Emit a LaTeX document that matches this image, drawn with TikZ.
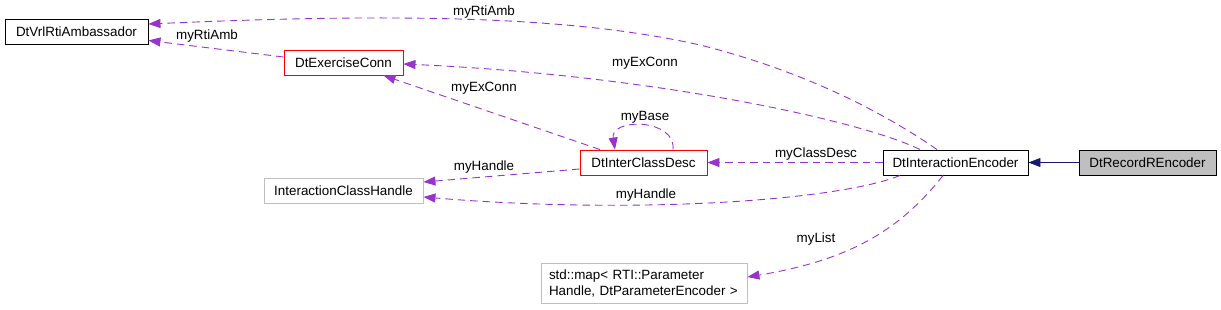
\documentclass[tikz,border=0pt]{standalone}
\usepackage{fontspec}
\setmainfont{Liberation Sans}
\usetikzlibrary{positioning, calc, arrows.meta}
\definecolor{memberpurple}{HTML}{9A32CD}
\definecolor{basenavy}{HTML}{191970}
\definecolor{boxgray}{HTML}{BFBFBF}

\begin{document}
\begin{tikzpicture}[x=1pt, y=-1pt,
    cls/.style={draw=black, fill=white, line width=0.9pt, minimum height=25pt, inner sep=0pt, font=\fontsize{13.4}{16}\selectfont},
    redcls/.style={cls, draw=red},
    extcls/.style={cls, draw=boxgray},
    lbl/.style={inner sep=0pt, font=\fontsize{13.4}{16}\selectfont},
    member/.style={memberpurple, line width=0.9pt, dash pattern=on 7.5pt off 5pt, -{Triangle[length=12pt, width=9pt]}},
    inherit/.style={basenavy, line width=0.9pt, -{Triangle[length=12pt, width=9pt]}}]
    \useasboundingbox (0,0) rectangle (1221,309);
    % classes
    \node[cls, minimum width=143pt] (amb) at (76.5,31.5) {DtVrlRtiAmbassador};
    \node[redcls, minimum width=119pt] (exc) at (343.5,62.5) {DtExerciseConn};
    \node[redcls, minimum width=127pt] (icd) at (643.5,162.5) {DtInterClassDesc};
    \node[extcls, minimum width=159pt] (ich) at (343.5,190.5) {InteractionClassHandle};
    \node[cls, minimum width=145pt] (enc) at (955.5,162.5) {DtInteractionEncoder};
    \node[cls, fill=boxgray, minimum width=137pt] (rec) at (1147.5,162.5) {DtRecordREncoder};
    \node[extcls, minimum height=40pt, inner xsep=8pt, text width=190pt, align=left] (map) at (644,283)
        {std::map< RTI::Parameter\\Handle, DtParameterEncoder >};
    % members
    \draw[member] ([xshift=-18.5pt]enc.north) .. controls (880,110) and (800,70) .. (700,45)
        .. controls (580,18) and (420,12) .. ([yshift=7.5pt]amb.east);
    \node[lbl] (rtiAmbTop) at (484,12) {myRtiAmb};
    \draw[member] ([yshift=5.5pt]exc.west) -- ([yshift=-9pt]amb.east);
    \node[lbl] (rtiAmbLow) at (207,36) {myRtiAmb};
    \draw[member] ([xshift=-35.5pt]enc.north) .. controls (860,120) and (650,75) .. ([yshift=-1.5pt]exc.east);
    \node[lbl] (exConnTop) at (645,63) {myExConn};
    \draw[member] ([xshift=-43.5pt]icd.north) -- ([xshift=40pt]exc.south);
    \node[lbl] (exConnLow) at (484,88) {myExConn};
    \draw[member] ([xshift=29.5pt]icd.north) .. controls (676,118) and (610,118) .. ([xshift=-28.5pt]icd.north);
    \node[lbl] (base) at (645,117) {myBase};
    \draw[member] (enc.west) -- (icd.east);
    \node[lbl] (classDesc) at (816,154) {myClassDesc};
    \draw[member] ([yshift=-6.5pt]icd.west) -- ([yshift=8.5pt]ich.east);
    \node[lbl] (handleTop) at (484,167) {myHandle};
    \draw[member] ([xshift=-55.5pt]enc.south) .. controls (840,200) and (640,215) .. ([yshift=-6.5pt]ich.east);
    \node[lbl] (handleLow) at (646,195) {myHandle};
    \draw[member] ([xshift=-12.5pt]enc.south) .. controls (900,230) and (850,260) .. ([yshift=6pt]map.east);
    \node[lbl] (list) at (816,239) {myList};
    % base class
    \draw[inherit] (rec.west) -- (enc.east);
\end{tikzpicture}
\end{document}
